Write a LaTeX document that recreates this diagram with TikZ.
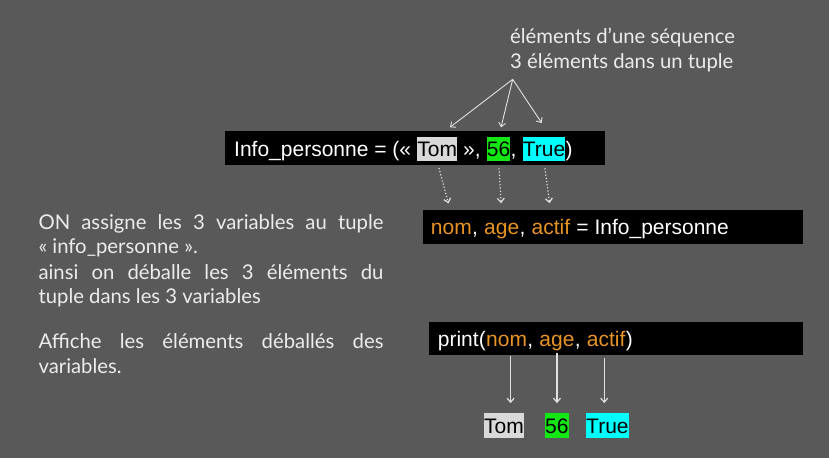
\documentclass[tikz,border=0pt]{standalone}
\usepackage{fontspec}
\setmainfont{Liberation Sans}
\newfontfamily\handfont{Lato}
\usetikzlibrary{arrows.meta}
\definecolor{bgcol}{RGB}{89,89,89}
\definecolor{notecol}{RGB}{236,236,236}
\definecolor{arrcol}{RGB}{225,225,225}
\definecolor{varcol}{RGB}{232,148,36}
\definecolor{tomcol}{RGB}{217,217,217}
\definecolor{numcol}{RGB}{20,232,20}
\definecolor{boolcol}{RGB}{0,255,255}
\newcommand\codefont{\fontsize{21}{25}\selectfont}
\newcommand\notefont{\handfont\fontsize{20.3}{24}\selectfont}
% a space that survives at the end of a node text
\newcommand\tsp{\ \mbox{}}
\begin{document}
\begin{tikzpicture}[x=1pt,y=-1pt,
  code/.style={font=\codefont, text=white, inner sep=0pt, anchor=base west,
    text height=20pt, text depth=4.4pt},
  var/.style={code, text=varcol},
  hl/.style={code, text=black, fill=#1},
  codebox/.style={fill=black, draw=none, inner sep=0pt, anchor=north west},
  note/.style={font=\notefont, text=notecol, inner sep=0pt, anchor=base west},
  arr/.style={draw=arrcol, line width=1.2pt, -{Straight Barb[length=4pt,width=7pt]}},
  thinarr/.style={draw=arrcol, line width=0.9pt, -{Straight Barb[length=4pt,width=7pt]}},
  dotarr/.style={draw=arrcol, line width=1.2pt, dotted, -{Straight Barb[length=4pt,width=7pt]}}]

% background
\fill[bgcol] (0,0) rectangle (829,458);
\useasboundingbox (0,0) rectangle (829,458);

% annotation above the tuple
\node[note] (n1) at (510,43.3) {éléments d’une séquence};
\node[note] (n2) at (510,68.3) {3 éléments dans un tuple};
\coordinate (apex) at (512.7,79.3);
\coordinate (p1) at (450,127.3);
\coordinate (p2) at (501,127.3);
\coordinate (p3) at (541.7,123);
\draw[thinarr] (apex) -- (p1);
\draw[thinarr] (apex) -- (p2);
\draw[thinarr] (apex) -- (p3);

% tuple definition
\node[codebox, minimum width=380pt, minimum height=34pt] (tuplebox) at (225,131) {};
\node[code] (c1) at (234,156.7) {Info\_personne = («\tsp};
\node[hl=tomcol] (tom) at (c1.base east) {Tom};
\node[code] (c2) at (tom.base east) {\ »,\tsp};
\node[hl=numcol] (num) at (c2.base east) {56};
\node[code] (c3) at (num.base east) {,\tsp};
\node[hl=boolcol] (bool) at (c3.base east) {True};
\node[code] (c4) at (bool.base east) {)};

% unpacking
\node[codebox, minimum width=380.7pt, minimum height=33.3pt] (unpackbox) at (422.3,210) {};
\node[var] (vnom) at (430.7,234.3) {nom};
\node[code] (u1) at (vnom.base east) {,\tsp};
\node[var] (vage) at (u1.base east) {age};
\node[code] (u2) at (vage.base east) {,\tsp};
\node[var] (vactif) at (u2.base east) {actif};
\node[code] (u3) at (vactif.base east) {\ = Info\_personne};

\draw[dotarr, shorten <=7pt, shorten >=11pt] (tom.south) -- (vnom.north);
\draw[dotarr, shorten <=7pt, shorten >=11pt] (num.south) -- (vage.north);
\draw[dotarr, shorten <=7pt, shorten >=11pt] (bool.south) -- (vactif.north);

% print call
\node[codebox, minimum width=374pt, minimum height=33.3pt] (printbox) at (429,321.7) {};
\node[code] (q1) at (437.7,346.7) {print(};
\node[var] (pnom) at (q1.base east) {nom};
\node[code] (q2) at (pnom.base east) {,\tsp};
\node[var] (page) at (q2.base east) {age};
\node[code] (q3) at (page.base east) {,\tsp};
\node[var] (pactif) at (q3.base east) {actif};
\node[code] (q4) at (pactif.base east) {)};

% printed values
\node[hl=tomcol] (rtom) at (484,433.3) {Tom};
\node[hl=numcol] (rnum) at (545,433.3) {56};
\node[hl=boolcol] (rbool) at (586,433.3) {True};

\draw[arr, shorten <=5pt, shorten >=10pt] ([xshift=4pt]pnom.south) -- ([xshift=4pt]pnom.south |- rtom.north);
\draw[arr, shorten <=2pt, shorten >=10pt] (page.south) -- (page.south |- rnum.north);
\draw[arr, shorten <=7pt, shorten >=10pt] ([xshift=-2pt]pactif.south) -- ([xshift=-2pt]pactif.south |- rbool.north);

% explanations
\node[note] (l1) at (38.3,229.3) {\makebox[345pt][s]{ON assigne les 3 variables au tuple}};
\node[note] (l2) at (38.3,253.3) {« info\_personne ».};
\node[note] (l3) at (38.3,279) {\makebox[345pt][s]{ainsi on déballe les 3 éléments du}};
\node[note] (l4) at (38.3,303) {tuple dans les 3 variables};
\node[note] (l5) at (38.3,348) {\makebox[345pt][s]{Affiche les éléments déballés des}};
\node[note] (l6) at (38.3,373) {variables.};
\end{tikzpicture}
\end{document}
